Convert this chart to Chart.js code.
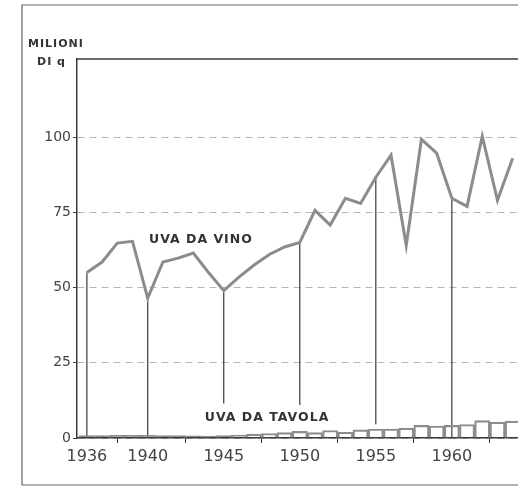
<!DOCTYPE html>
<html>
<head>
<meta charset="utf-8">
<script src="https://cdn.jsdelivr.net/npm/chart.js@4/dist/chart.umd.min.js"></script>
<style>
  html, body { margin: 0; padding: 0; background: #fff; }
  #grafico { display: block; }
</style>
</head>
<body>
<canvas id="grafico" width="518" height="486"></canvas>
<script>
// anni e produzione (milioni di quintali)
var anni = [1936, 1937, 1938, 1939, 1940, 1941, 1942, 1943, 1944, 1945,
            1946, 1947, 1948, 1949, 1950, 1951, 1952, 1953, 1954, 1955,
            1956, 1957, 1958, 1959, 1960, 1961, 1962, 1963, 1964]
var uvaVino = [55, 58.5, 64.8, 65.4, 46.5, 58.5, 59.8, 61.5, 55, 49,
               53.5, 57.5, 61, 63.5, 65, 75.7, 70.8, 79.7, 78, 86.7,
               94, 64, 99.3, 94.7, 79.7, 77, 100.3, 79, 93]
var uvaTavola = [0.8, 0.8, 0.9, 0.9, 0.9, 0.8, 0.8, 0.7, 0.6, 0.8,
                 1.0, 1.3, 1.5, 1.8, 2.2, 1.8, 2.5, 1.9, 2.7, 3.0,
                 3.0, 3.3, 4.2, 4.0, 4.2, 4.5, 5.8, 5.3, 5.6]

var xTicks = [1936, 1940, 1945, 1950, 1955, 1960]
var yTicks = [0, 25, 50, 75, 100]

// linee verticali di riferimento: anno e valore dove finiscono in basso
var anniVerticali = [1936, 1940, 1945, 1950, 1955, 1960]
var fineVerticali = [0, 0, 11.5, 11, 4.6, 0]

var grigio = '#8c8c8c'
var scuro = '#3a3a3a'

function punti(xs, ys) {
    return xs.map(function (x, i) { return { x: x, y: ys[i] } })
}

var datasets = [{
    type: 'line',
    label: 'Uva da vino',
    data: punti(anni, uvaVino),
    borderColor: grigio,
    borderWidth: 3,
    pointRadius: 0,
    tension: 0,
    fill: false,
    order: 1
}, {
    type: 'bar',
    label: 'Uva da tavola',
    data: punti(anni, uvaTavola),
    borderColor: grigio,
    borderWidth: 1.5,
    backgroundColor: 'rgba(0,0,0,0)',
    barPercentage: 1,
    categoryPercentage: 1,
    order: 2
}]

for (var i = 0; i < anniVerticali.length; i++) {
    var anno = anniVerticali[i]
    datasets.push({
        type: 'line',
        data: [{ x: anno, y: uvaVino[anni.indexOf(anno)] }, { x: anno, y: fineVerticali[i] }],
        borderColor: scuro,
        borderWidth: 1.2,
        pointRadius: 0,
        fill: false,
        order: 3
    })
}

// cornice, bordo superiore e scritte
var decorazioni = {
    id: 'decorazioni',
    afterDraw: function (chart) {
        var ctx = chart.ctx
        var a = chart.chartArea
        var xs = chart.scales.x, ys = chart.scales.y
        ctx.save()
        ctx.strokeStyle = '#666'
        ctx.lineWidth = 1.2
        ctx.beginPath()
        ctx.moveTo(518, 5); ctx.lineTo(22, 5); ctx.lineTo(22, 485); ctx.lineTo(518, 485)
        ctx.stroke()
        ctx.strokeStyle = scuro
        ctx.lineWidth = 1.5
        ctx.beginPath()
        ctx.moveTo(a.left, a.top); ctx.lineTo(a.right, a.top)
        ctx.stroke()

        ctx.fillStyle = '#333'
        ctx.textBaseline = 'middle'
        ctx.textAlign = 'left'
        ctx.font = 'bold 11px "DejaVu Sans"'
        if ('letterSpacing' in ctx) ctx.letterSpacing = '1px'
        ctx.fillText('MILIONI', 28, 44)
        ctx.fillText('DI q', 37, 62)

        ctx.textAlign = 'center'
        ctx.font = 'bold 12.5px "DejaVu Sans"'
        ctx.fillText('UVA DA VINO', xs.getPixelForValue(1943.5), ys.getPixelForValue(65.8))
        ctx.fillText('UVA DA TAVOLA', xs.getPixelForValue(1947.85), ys.getPixelForValue(6.6))
        ctx.restore()
    }
}

new Chart(document.getElementById('grafico'), {
    type: 'line',
    data: { datasets: datasets },
    plugins: [decorazioni],
    options: {
        responsive: false,
        animation: false,
        layout: { padding: { top: 59, left: 0, right: 0, bottom: 0 } },
        plugins: {
            legend: { display: false },
            tooltip: { enabled: false }
        },
        scales: {
            x: {
                type: 'linear',
                min: 1935.35,
                max: 1964.35,
                offset: false,
                afterBuildTicks: function (scale) {
                    scale.ticks = xTicks.map(function (v) { return { value: v } })
                },
                afterFit: function (scale) { scale.height = 48 },
                ticks: {
                    color: '#444',
                    font: { family: 'DejaVu Sans', size: 16 },
                    padding: 4,
                    maxRotation: 0,
                    callback: function (v) { return String(v) }
                },
                grid: { display: true, drawOnChartArea: false, tickLength: 5, color: scuro },
                border: { color: scuro, width: 1.5 }
            },
            y: {
                min: 0,
                max: 126,
                afterBuildTicks: function (scale) {
                    scale.ticks = yTicks.map(function (v) { return { value: v } })
                },
                afterFit: function (scale) { scale.width = 77 },
                ticks: {
                    color: '#444',
                    font: { family: 'DejaVu Sans', size: 14 },
                    padding: 2
                },
                grid: { color: '#b5b5b5', lineWidth: 1, tickLength: 4, tickColor: scuro, tickBorderDash: [] },
                border: { color: scuro, width: 1.5, dash: [7, 5] }
            }
        }
    }
})
</script>
</body>
</html>
